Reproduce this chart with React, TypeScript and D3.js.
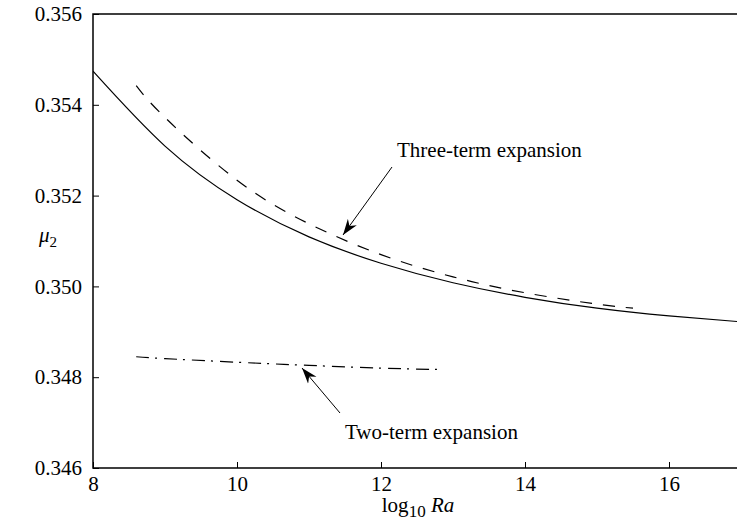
import React, { useEffect, useRef } from 'react'
import * as d3 from 'd3'

// values
const xExact = [8, 9, 10, 11, 12, 13, 14, 15, 16, 17]
const yExact = [0.35474, 0.35309, 0.35191, 0.35109, 0.35051, 0.35008, 0.34976, 0.34952, 0.34935, 0.34922]

const xThreeTerm = [8.6, 9, 10, 11, 12, 13, 14, 15, 15.5]
const yThreeTerm = [0.35442, 0.35372, 0.35234, 0.35138, 0.3507, 0.35021, 0.34986, 0.34961, 0.34952]

const xTwoTerm = [8.6, 9, 10, 11, 12, 12.8]
const yTwoTerm = [0.34845, 0.34841, 0.34833, 0.34826, 0.3482, 0.34817]

const xTicks = [8, 10, 12, 14, 16]
const yTicks = [0.346, 0.348, 0.35, 0.352, 0.354, 0.356]

const W = 737
const H = 523
const FONT = '"Liberation Serif", "DejaVu Serif", serif'

export default function App() {
  const ref = useRef<SVGSVGElement>(null)

  useEffect(() => {
    const svg = d3.select(ref.current)
    svg.selectAll('*').remove()

    const left = 93, right = 741, top = 14, bottom = 468
    const x = d3.scaleLinear().domain([8, 17]).range([left, right])
    const y = d3.scaleLinear().domain([0.346, 0.356]).range([bottom, top])

    svg.append('rect').attr('width', W).attr('height', H).attr('fill', '#fff')

    const defs = svg.append('defs')
    defs.append('clipPath').attr('id', 'plotclip')
      .append('rect').attr('x', left).attr('y', top).attr('width', right - left).attr('height', bottom - top)
    defs.append('marker')
      .attr('id', 'head')
      .attr('viewBox', '-16 -6 17 12')
      .attr('refX', 0).attr('refY', 0)
      .attr('markerWidth', 17).attr('markerHeight', 12)
      .attr('markerUnits', 'userSpaceOnUse')
      .attr('orient', 'auto')
      .append('path')
      .attr('d', 'M0,0 L-16,-5.5 L-11,0 L-16,5.5 Z')
      .attr('fill', '#000')

    // frame
    svg.append('path')
      .attr('d', `M${right},${top} H${left} V${bottom} H${right}`)
      .attr('fill', 'none').attr('stroke', '#000').attr('stroke-width', 1.5)

    // ticks (inside)
    const xAxis = svg.append('g').attr('transform', `translate(0,${bottom})`)
      .call(d3.axisBottom(x).tickValues(xTicks).tickSizeInner(-6).tickSizeOuter(0).tickPadding(12).tickFormat(d3.format('d')))
    xAxis.select('.domain').remove()
    xAxis.selectAll('line').attr('stroke', '#000').attr('stroke-width', 1)
    xAxis.selectAll('text').attr('font-family', FONT).attr('font-size', 21).attr('fill', '#000')
      .attr('dy', '0.71em').attr('y', 8)

    const yAxis = svg.append('g').attr('transform', `translate(${left},0)`)
      .call(d3.axisLeft(y).tickValues(yTicks).tickSizeInner(-6).tickSizeOuter(0).tickPadding(11).tickFormat(d3.format('.3f')))
    yAxis.select('.domain').remove()
    yAxis.selectAll('line').attr('stroke', '#000').attr('stroke-width', 1)
    yAxis.selectAll('text').attr('font-family', FONT).attr('font-size', 21).attr('fill', '#000').attr('x', -11)

    const plot = svg.append('g').attr('clip-path', 'url(#plotclip)')
    const line = d3.line<[number, number]>()
      .x((d) => x(d[0]))
      .y((d) => y(d[1]))
      .curve(d3.curveNatural)

    const series = [
      { xs: xExact, ys: yExact, dash: null },
      { xs: xThreeTerm, ys: yThreeTerm, dash: '12,11' },
      { xs: xTwoTerm, ys: yTwoTerm, dash: '13,6,2,7' },
    ]
    series.forEach((s) => {
      const pts = s.xs.map((v, i) => [v, s.ys[i]] as [number, number])
      plot.append('path')
        .datum(pts)
        .attr('d', line)
        .attr('fill', 'none')
        .attr('stroke', '#000')
        .attr('stroke-width', 1.2)
        .attr('stroke-dasharray', s.dash)
    })

    // annotations
    svg.append('line')
      .attr('x1', 392).attr('y1', 167).attr('x2', 343).attr('y2', 235)
      .attr('stroke', '#000').attr('stroke-width', 1).attr('marker-end', 'url(#head)')
    svg.append('text')
      .attr('x', 397).attr('y', 157)
      .attr('font-family', FONT).attr('font-size', 21).attr('fill', '#000')
      .text('Three-term expansion')

    svg.append('line')
      .attr('x1', 340).attr('y1', 413).attr('x2', 302).attr('y2', 368)
      .attr('stroke', '#000').attr('stroke-width', 1).attr('marker-end', 'url(#head)')
    svg.append('text')
      .attr('x', 345).attr('y', 439)
      .attr('font-family', FONT).attr('font-size', 21).attr('fill', '#000')
      .text('Two-term expansion')

    // axis labels
    const xl = svg.append('text')
      .attr('x', 418).attr('y', 512)
      .attr('text-anchor', 'middle')
      .attr('font-family', FONT).attr('font-size', 21).attr('fill', '#000')
    xl.append('tspan').text('log')
    xl.append('tspan').attr('font-size', 17).attr('dy', 5).text('10')
    xl.append('tspan').attr('dy', -5).text(' ')
    xl.append('tspan').attr('font-style', 'italic').text('Ra')

    const yl = svg.append('text')
      .attr('x', 39).attr('y', 242)
      .attr('font-family', FONT).attr('font-size', 21).attr('fill', '#000')
    yl.append('tspan').attr('font-style', 'italic').text('μ')
    yl.append('tspan').attr('font-size', 15).attr('dy', 5).text('2')
  }, [])

  return (
    <svg
      ref={ref}
      width={W}
      height={H}
      style={{ position: 'absolute', left: 0, top: 0, display: 'block' }}
    />
  )
}
